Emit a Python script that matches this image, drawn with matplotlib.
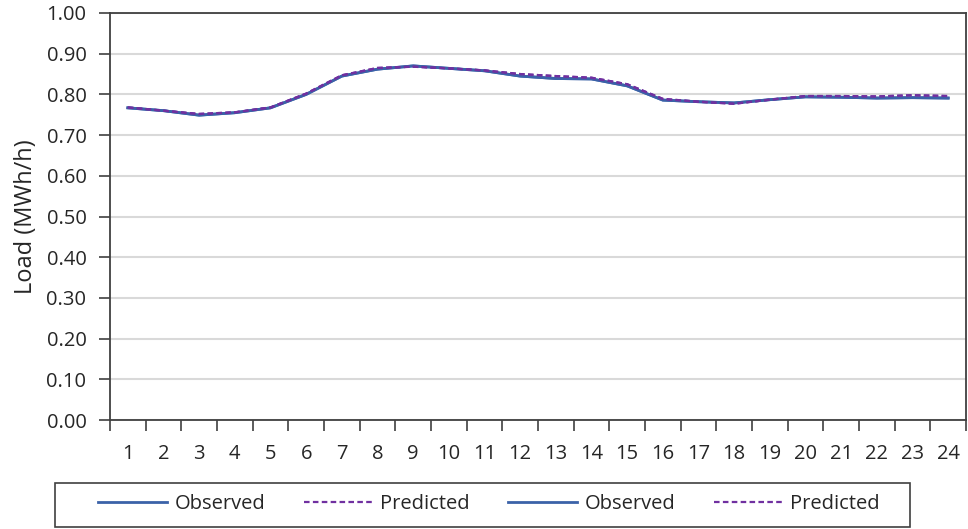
import matplotlib
matplotlib.use("Agg")
import matplotlib.pyplot as plt
from matplotlib.patches import Rectangle
from matplotlib.ticker import FixedLocator, FormatStrFormatter

# Hourly load (MWh/h)
hours = list(range(1, 25))
observed = [0.767, 0.760, 0.749, 0.755, 0.767, 0.800, 0.845, 0.862, 0.870, 0.864,
            0.858, 0.845, 0.839, 0.838, 0.821, 0.786, 0.782, 0.779, 0.787, 0.794,
            0.793, 0.791, 0.792, 0.791]
predicted = [0.768, 0.760, 0.752, 0.756, 0.768, 0.802, 0.847, 0.865, 0.868, 0.864,
             0.859, 0.850, 0.845, 0.841, 0.825, 0.789, 0.782, 0.777, 0.787, 0.796,
             0.796, 0.795, 0.798, 0.796]
series_labels = ["Observed", "Predicted", "Observed", "Predicted"]
y_ticks = [0.0, 0.1, 0.2, 0.3, 0.4, 0.5, 0.6, 0.7, 0.8, 0.9, 1.0]

plt.rcParams['font.family'] = ['Open Sans', 'DejaVu Sans']

W, H = 968, 529
fig = plt.figure(figsize=(W / 100, H / 100), dpi=100)
ax = fig.add_axes([110 / W, 1 - 420 / H, (966 - 110) / W, (420 - 13) / H])

obs_color = '#3b62a8'
pred_color = '#7030a0'
text_color = '#262626'

for lbl in series_labels:
    if lbl == "Observed":
        ax.plot(hours, observed, color=obs_color, lw=2.0, label=lbl, zorder=3)
    else:
        ax.plot(hours, predicted, color=pred_color, lw=1.6, dashes=(2.5, 1.5),
                label=lbl, zorder=4)

ax.set_xlim(0.5, 24.5)
ax.set_ylim(0, 1.0)
ax.set_yticks(y_ticks)
ax.yaxis.set_major_formatter(FormatStrFormatter('%.2f'))
ax.set_xticks(hours)
ax.set_xticklabels([str(h) for h in hours])
ax.xaxis.set_minor_locator(FixedLocator([h + 0.5 for h in range(0, 25)]))
ax.tick_params(axis='x', which='major', length=0, pad=17, labelsize=14.5, colors=text_color)
ax.tick_params(axis='x', which='minor', length=8, width=1.2, color='#404040', direction='out')
ax.tick_params(axis='y', which='major', length=8, width=1.2, color='#404040', pad=9,
               labelsize=14.5, labelcolor=text_color)

ax.grid(axis='y', color='#d9d9d9', lw=1.5, zorder=0)
ax.set_axisbelow(True)
for s in ax.spines.values():
    s.set_color('#404040')
    s.set_linewidth(1.3)

ax.set_ylabel("Load (MWh/h)", fontsize=17, color=text_color, labelpad=6)

# Legend entries laid out in one row, with a plain rectangular frame around them
leg = fig.legend(loc='center', bbox_to_anchor=(489 / W, 1 - 504 / H), ncol=4,
                 fontsize=14.5, frameon=False, handlelength=3.4,
                 columnspacing=1.9, handletextpad=0.4)
for t in leg.get_texts():
    t.set_color(text_color)
fig.add_artist(Rectangle((55 / W, 1 - 527 / H), (910 - 55) / W, (527 - 483) / H,
                         transform=fig.transFigure, fill=False,
                         edgecolor='#404040', lw=1.2))

fig.savefig("out.png", dpi=100)
